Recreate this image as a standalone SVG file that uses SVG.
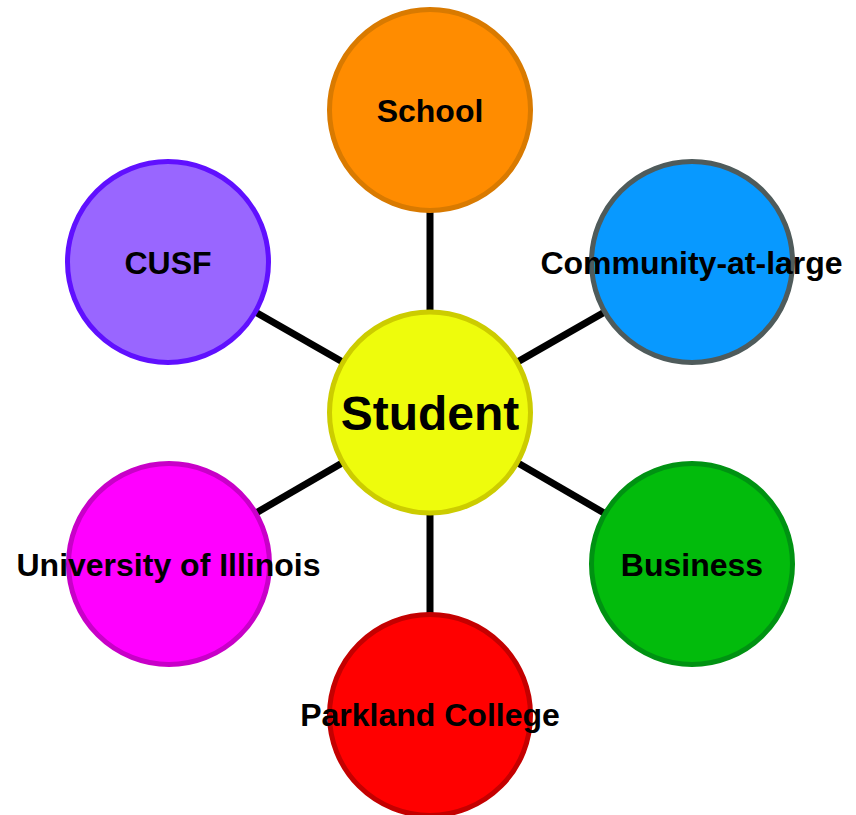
<svg xmlns="http://www.w3.org/2000/svg" width="856" height="815" viewBox="0 0 856 815">
<style>
.edge{stroke:#000;stroke-width:7;fill:none}
.node{stroke-width:5}
.lbl{font-family:"Liberation Sans",Arial,sans-serif;font-weight:bold;font-size:32px;fill:#000;text-anchor:middle}
.big{font-size:48px}
</style>
<rect width="856" height="815" fill="#fff"/>
<g id="connectors">
<line class="edge" x1="430" y1="412" x2="430" y2="110"/>
<line class="edge" x1="430" y1="412" x2="692" y2="262"/>
<line class="edge" x1="430" y1="412" x2="692" y2="564"/>
<line class="edge" x1="430" y1="412" x2="430" y2="715"/>
<line class="edge" x1="430" y1="412" x2="168" y2="564"/>
<line class="edge" x1="430" y1="412" x2="168" y2="262"/>
</g>
<g id="school">
<circle class="node" cx="430" cy="110" r="100.5" fill="#ff8c00" stroke="#d97a00"/>
<text class="lbl" x="430" y="122">School</text>
</g>
<g id="community">
<circle class="node" cx="692" cy="262" r="100.5" fill="#0899ff" stroke="#4f5b5b"/>
<text class="lbl" x="691.5" y="274">Community-at-large</text>
</g>
<g id="business">
<circle class="node" cx="692" cy="564" r="100.5" fill="#02bb0c" stroke="#009212"/>
<text class="lbl" x="692" y="576">Business</text>
</g>
<g id="parkland">
<circle class="node" cx="430" cy="715" r="100.5" fill="#ff0000" stroke="#c40000"/>
<text class="lbl" x="430" y="726">Parkland College</text>
</g>
<g id="university">
<circle class="node" cx="169" cy="564" r="100.5" fill="#ff00ff" stroke="#c800c8"/>
<text class="lbl" x="168.5" y="576">University of Illinois</text>
</g>
<g id="cusf">
<circle class="node" cx="168" cy="262" r="100.5" fill="#9966ff" stroke="#6010ff"/>
<text class="lbl" x="168" y="274">CUSF</text>
</g>
<g id="student">
<circle class="node" cx="430" cy="412.5" r="100.5" fill="#eefc0c" stroke="#cccc00"/>
<text class="lbl big" x="430" y="430">Student</text>
</g>
</svg>
